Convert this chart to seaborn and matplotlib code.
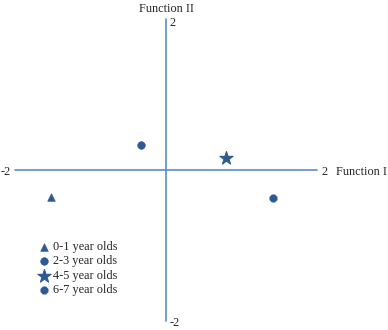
import pandas as pd
import seaborn as sns
import matplotlib.pyplot as plt

# Discriminant function centroids
groups = ['0-1 year olds', '2-3 year olds', '4-5 year olds', '6-7 year olds']
func1 = [-1.52, -0.33, 0.79, 1.41]
func2 = [-0.36, 0.33, 0.16, -0.37]
markers = ['^', 'o', '*', '8']

df = pd.DataFrame({'Function I': func1, 'Function II': func2, 'Group': groups})

sns.set_style('white')
plt.rcParams['font.family'] = ['Liberation Serif', 'DejaVu Serif']

fig = plt.figure(figsize=(3.88, 3.3), dpi=100)
ax = fig.add_axes([0, 0, 1, 1])
ax.set_xlim(-2.193, 2.933)
ax.set_ylim(-2.119, 2.252)
ax.axis('off')

axis_color = '#5b8bd0'
ax.plot([-2, 2], [0, 0], color=axis_color, lw=1.2, zorder=1)
ax.plot([0, 0], [-2, 2], color=axis_color, lw=1.2, zorder=1)

point_color = '#2e5a94'
sizes = {'^': 30, 'o': 30, '*': 100, '8': 32}
for g, x, y, m in zip(groups, func1, func2, markers):
    sns.scatterplot(x=[x], y=[y], marker=m, s=sizes[m], color=point_color,
                    edgecolor=point_color, ax=ax, label=g, zorder=3)

fs = 8.8
ax.text(0, 2.13, 'Function II', ha='center', va='center', fontsize=fs)
ax.text(0.05, 1.95, '2', ha='left', va='center', fontsize=fs)
ax.text(0.05, -2.03, '-2', ha='left', va='center', fontsize=fs)
ax.text(-2.05, -0.02, '-2', ha='right', va='center', fontsize=fs)
ax.text(2.06, -0.02, '2', ha='left', va='center', fontsize=fs)
ax.text(2.24, -0.02, 'Function I', ha='left', va='center', fontsize=fs)

ax.legend(loc='upper left', bbox_to_anchor=(0.085, 0.285), frameon=False,
          fontsize=fs, handletextpad=0.2, labelspacing=0.2,
          borderaxespad=0, handlelength=1.0)

fig.savefig('out.png', dpi=100)
